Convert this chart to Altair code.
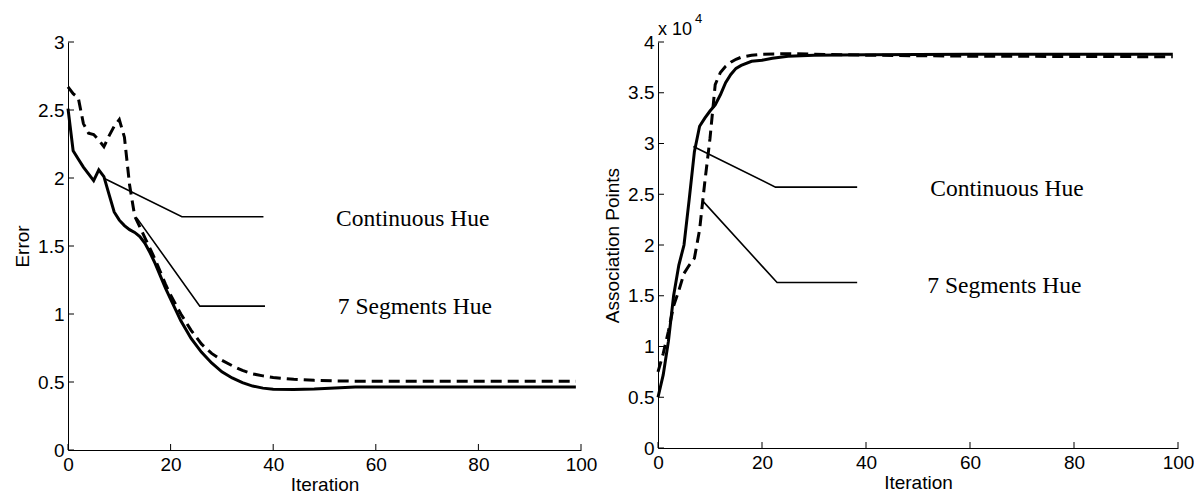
import altair as alt
import pandas as pd

# ---------------- data ----------------
ITER_TICKS = [0, 20, 40, 60, 80, 100]
ERR_TICKS = [0, 0.5, 1, 1.5, 2, 2.5, 3]
ASSOC_TICKS = [0, 5000, 10000, 15000, 20000, 25000, 30000, 35000, 40000]
LABELS = ["Continuous Hue", "7 Segments Hue"]

# Left panel: Error vs Iteration
err_iter = [0, 1, 2, 3, 4, 5, 6, 7, 8, 9, 10, 11, 12, 13, 14, 15, 16, 17, 18, 19, 20,
            22, 24, 26, 28, 30, 32, 34, 36, 38, 40, 44, 48, 52, 56, 99]
err_cont = [2.51, 2.20, 2.14, 2.08, 2.03, 1.98, 2.06, 2.01, 1.88, 1.75, 1.69,
            1.65, 1.62, 1.60, 1.57, 1.52, 1.45, 1.37, 1.28, 1.19, 1.11,
            0.95, 0.82, 0.72, 0.64, 0.575, 0.53, 0.495, 0.47, 0.455, 0.447,
            0.444, 0.448, 0.456, 0.464, 0.464]
err_seg = [2.67, 2.62, 2.59, 2.40, 2.33, 2.32, 2.28, 2.23, 2.31, 2.38, 2.43,
           2.30, 1.95, 1.72, 1.64, 1.56, 1.48, 1.40, 1.31, 1.22, 1.14,
           1.00, 0.88, 0.78, 0.71, 0.66, 0.62, 0.585, 0.56, 0.545, 0.533,
           0.52, 0.512, 0.508, 0.506, 0.505]

# Right panel: Association Points vs Iteration
assoc_cont_iter = [0, 1, 2, 3, 4, 5, 6, 7, 8, 9, 10, 11, 12, 13, 14, 15, 16, 18, 20,
                   22, 25, 30, 40, 60, 99]
assoc_cont = [5000, 7200, 10500, 15000, 18000, 20000, 24500, 29200, 31700, 32500,
              33200, 33800, 34800, 36000, 36800, 37400, 37700, 38100, 38200,
              38400, 38600, 38700, 38750, 38800, 38800]
assoc_seg_iter = [0, 1, 2, 3, 4, 5, 6, 7, 8, 9, 10, 11, 12, 13, 14, 15, 16, 18, 20,
                  25, 30, 40, 60, 99]
assoc_seg = [7500, 9300, 11500, 14000, 15500, 17200, 18000, 18700, 21500, 26200,
             30500, 35800, 37000, 37600, 38000, 38300, 38500, 38700, 38800,
             38850, 38800, 38700, 38600, 38550]

# leader lines (start on curve, knee, end)
err_lead_cont_x = [6.9, 22.2, 38.1]
err_lead_cont_y = [2.0, 1.715, 1.715]
err_lead_seg_x = [13.4, 25.7, 38.4]
err_lead_seg_y = [1.707, 1.058, 1.058]
assoc_lead_cont_x = [6.8, 22.6, 38.3]
assoc_lead_cont_y = [29700, 25700, 25700]
assoc_lead_seg_x = [8.5, 22.9, 38.3]
assoc_lead_seg_y = [24400, 16300, 16300]

# label anchors
err_lab_x = [67.2, 67.6]
err_lab_y = [1.70, 1.053]
assoc_lab_x = [67.1, 66.6]
assoc_lab_y = [25500, 16000]

FONT_AX = "Liberation Sans"
FONT_TX = "Liberation Serif"


def make_panel(cx, cy, sx, sy, y_ticks, y_max, y_title, w, h,
               lead_c, lead_s, lab_x, lab_y, y_label_expr, exponent=False):
    xs = alt.Scale(domain=[0, 100], nice=False, zero=False)
    ys = alt.Scale(domain=[0, y_max], nice=False, zero=False)
    x_axis = alt.Axis(values=ITER_TICKS, title="Iteration", ticks=False, grid=False,
                      labelPadding=5, titlePadding=1, labelFlush=False,
                      labelOverlap=False, labelExpr="'' + datum.value")
    y_axis = alt.Axis(values=y_ticks, title=y_title, ticks=False, grid=False,
                      labelPadding=4, titlePadding=5, labelFlush=False,
                      labelOverlap=False, labelExpr=y_label_expr)
    X = alt.X("it:Q", scale=xs, axis=x_axis)
    Y = alt.Y("v:Q", scale=ys, axis=y_axis)

    df_c = pd.DataFrame({"it": cx, "v": cy})
    df_s = pd.DataFrame({"it": sx, "v": sy})

    solid = alt.Chart(df_c).mark_line(color="black", strokeWidth=3).encode(x=X, y=Y)
    dashed = alt.Chart(df_s).mark_line(color="black", strokeWidth=3,
                                       strokeDash=[11, 6]).encode(x=X, y=Y)

    xt = alt.Chart(pd.DataFrame({"it": ITER_TICKS})).mark_rule(
        color="black", strokeWidth=1).encode(
        x=X, y=alt.value(h), y2=alt.value(h - 6),
    )
    yt = alt.Chart(pd.DataFrame({"v": y_ticks})).mark_rule(
        color="black", strokeWidth=1).encode(
        y=Y, x=alt.value(0), x2=alt.value(6),
    )

    lead_df = pd.DataFrame({
        "it": lead_c[0] + lead_s[0],
        "v": lead_c[1] + lead_s[1],
        "g": ["c"] * len(lead_c[0]) + ["s"] * len(lead_s[0]),
    })
    leaders = alt.Chart(lead_df).mark_line(color="black", strokeWidth=1.6).encode(
        x=X, y=Y, detail="g:N",
    )

    lab_df = pd.DataFrame({"it": lab_x, "v": lab_y, "t": LABELS})
    texts = alt.Chart(lab_df).mark_text(font=FONT_TX, fontSize=23.5, align="center",
                                        baseline="middle", color="black").encode(
        x=X, y=Y, text="t:N",
    )

    layers = [solid, dashed, leaders, xt, yt, texts]

    if exponent:
        exp_df = pd.DataFrame({"it": [0], "v": [y_max]})
        base_txt = alt.Chart(exp_df).mark_text(font=FONT_AX, fontSize=18, align="left",
                                               baseline="alphabetic", dx=0, dy=-7,
                                               color="black", text="x 10").encode(x=X, y=Y)
        sup_txt = alt.Chart(exp_df).mark_text(font=FONT_AX, fontSize=13, align="left",
                                              baseline="alphabetic", dx=37, dy=-19,
                                              color="black", text="4").encode(x=X, y=Y)
        layers += [base_txt, sup_txt]

    return alt.layer(*layers).properties(width=w, height=h)


left = make_panel(err_iter, err_cont, err_iter, err_seg, ERR_TICKS, 3, "Error",
                  513, 408,
                  (err_lead_cont_x, err_lead_cont_y), (err_lead_seg_x, err_lead_seg_y),
                  err_lab_x, err_lab_y, "'' + datum.value")
right = make_panel(assoc_cont_iter, assoc_cont, assoc_seg_iter, assoc_seg, ASSOC_TICKS,
                   40000, "Association Points", 520, 406,
                   (assoc_lead_cont_x, assoc_lead_cont_y),
                   (assoc_lead_seg_x, assoc_lead_seg_y),
                   assoc_lab_x, assoc_lab_y, "'' + (datum.value / 10000)", exponent=True)

chart = alt.hconcat(left, right, spacing=77, bounds="flush").properties(
    padding={"left": 13, "top": 13, "right": 0, "bottom": 0},
    background="white",
).configure_axis(
    domainColor="black", domainWidth=1,
    labelFont=FONT_AX, labelFontSize=19, labelColor="black",
    titleFont=FONT_AX, titleFontSize=19, titleFontWeight="normal", titleColor="black",
).configure_view(stroke=None)

chart.save("out.html", embed_options={"renderer": "svg", "actions": False})
